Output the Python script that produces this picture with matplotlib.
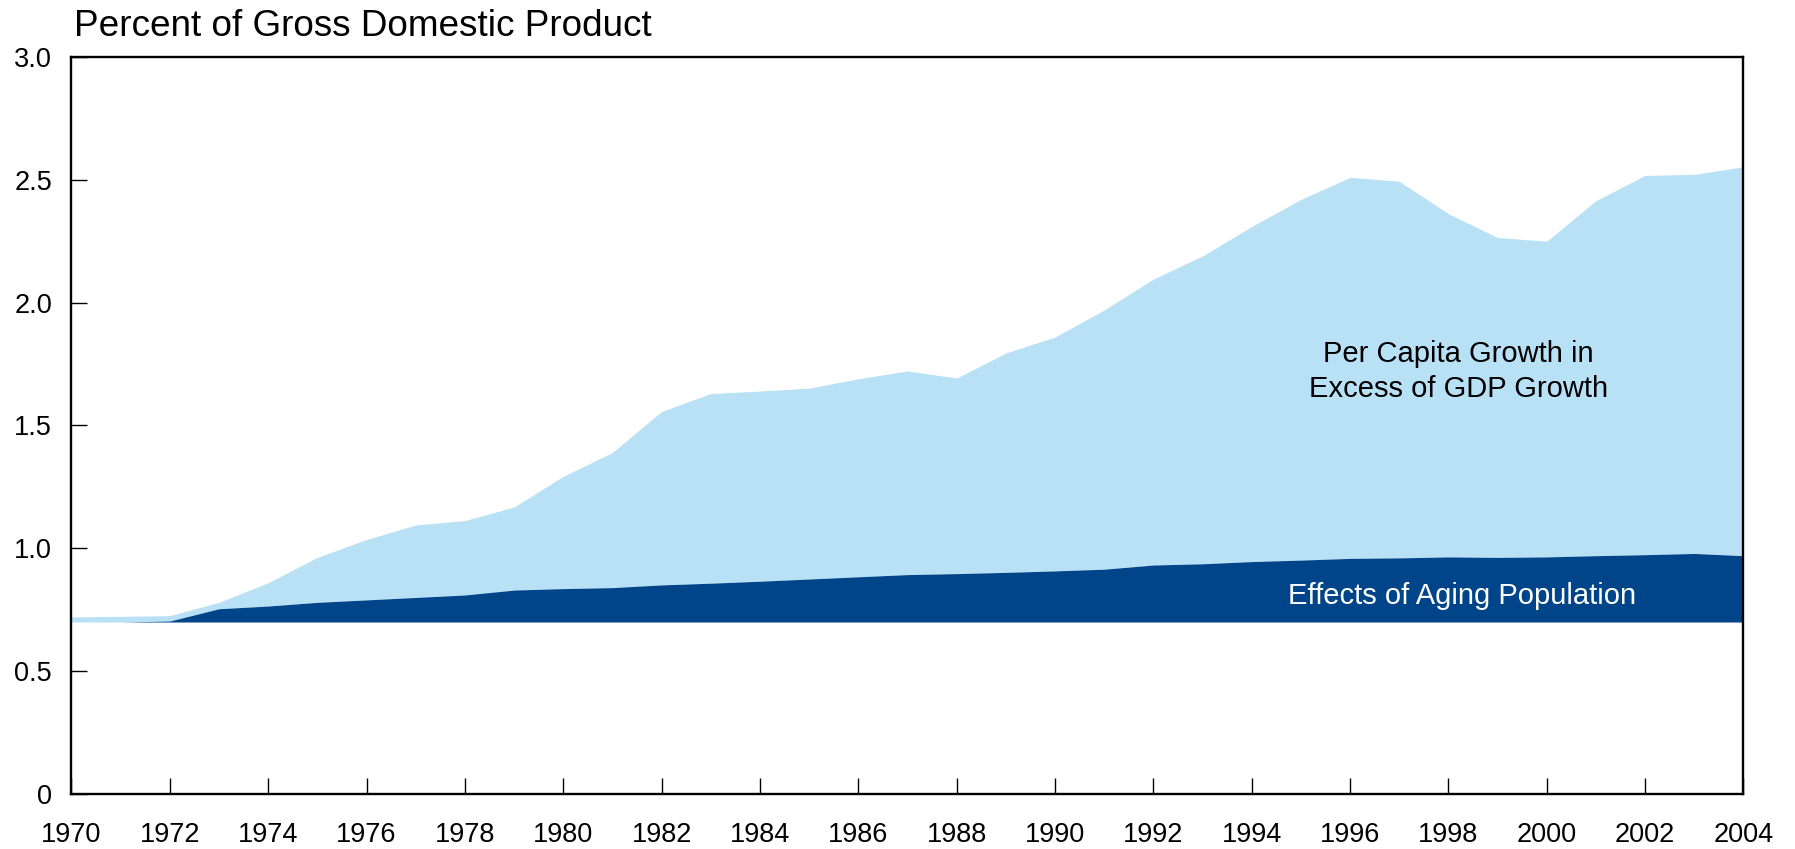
import matplotlib
matplotlib.use("Agg")
import matplotlib.pyplot as plt
import numpy as np

plt.rcParams['font.family'] = ['Liberation Sans', 'DejaVu Sans']

years = list(range(1970, 2005))
aging = [0.70, 0.70, 0.704, 0.754, 0.765, 0.78, 0.79, 0.80, 0.81, 0.83,
         0.836, 0.84, 0.851, 0.858, 0.866, 0.875, 0.884, 0.893, 0.897, 0.902,
         0.908, 0.915, 0.932, 0.937, 0.946, 0.952, 0.959, 0.961, 0.965, 0.963,
         0.965, 0.970, 0.974, 0.979, 0.970]
total = [0.721, 0.723, 0.726, 0.78, 0.86, 0.963, 1.036, 1.095, 1.113, 1.168,
         1.293, 1.39, 1.557, 1.63, 1.64, 1.652, 1.69, 1.722, 1.693, 1.795,
         1.86, 1.97, 2.096, 2.19, 2.31, 2.42, 2.51, 2.494, 2.362, 2.265,
         2.25, 2.415, 2.518, 2.522, 2.553]
baseline = 0.70
yticks = [0, 0.5, 1.0, 1.5, 2.0, 2.5, 3.0]
ytick_labels = ["0", "0.5", "1.0", "1.5", "2.0", "2.5", "3.0"]
xticks = list(range(1970, 2005, 2))

title = "Percent of Gross Domestic Product"
label_excess = "Per Capita Growth in\nExcess of GDP Growth"
label_aging = "Effects of Aging Population"

light = "#B8E1F6"
dark = "#00448A"

fig = plt.figure(figsize=(17.95, 8.49), dpi=100)
ax = fig.add_axes([0.0398, 0.0648, 0.9315, 0.8681])

ax.fill_between(years, aging, total, color=light, linewidth=0)
ax.fill_between(years, baseline, aging, color=dark, linewidth=0)

ax.set_xlim(1970, 2004)
ax.set_ylim(0, 3.0)
ax.set_yticks(yticks)
ax.set_yticklabels(ytick_labels)
ax.set_xticks(xticks)
ax.set_xticklabels([str(x) for x in xticks])

ax.tick_params(axis='x', direction='in', length=11.5, width=1.0, labelsize=19.5, pad=20, colors='black')
ax.tick_params(axis='y', direction='in', length=11.5, width=1.0, labelsize=19.5, pad=14, colors='black')
for s in ax.spines.values():
    s.set_linewidth(1.7)
    s.set_color('black')

ax.text(1998.2, 1.72, label_excess, ha='center', va='center', fontsize=21,
        color='black', linespacing=1.3)
ax.text(1998.27, 0.806, label_aging, ha='center', va='center', fontsize=21,
        color='white')

fig.text(0.0412, 0.958, title, ha='left', va='baseline', fontsize=26.6, color='black')

fig.savefig("out.png", dpi=100)
